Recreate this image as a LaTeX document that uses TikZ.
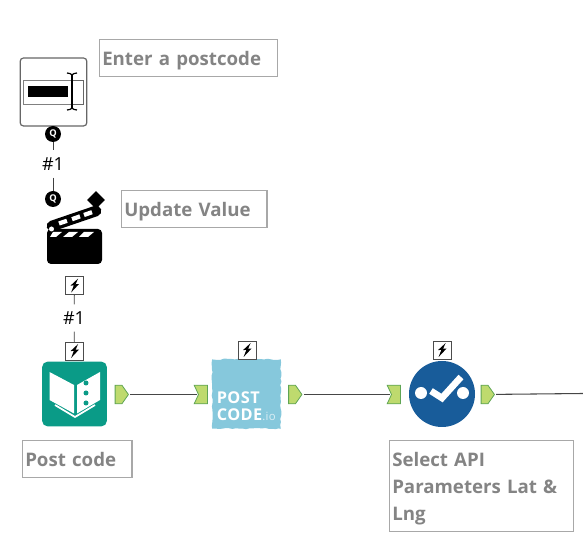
\documentclass[tikz,border=0pt]{standalone}
\usepackage{fontspec}
\usepackage{xcolor}
\usepackage{tikz}
\usetikzlibrary{shapes.symbols,shapes.geometric,decorations.pathmorphing}
\setmainfont{Open Sans}
\definecolor{noteline}{RGB}{168,168,168}
\definecolor{notetext}{RGB}{132,132,132}
\definecolor{wireline}{RGB}{70,70,70}
\definecolor{portfill}{RGB}{190,218,110}
\definecolor{portline}{RGB}{95,165,85}
\definecolor{bookteal}{RGB}{10,155,135}
\definecolor{apiblue}{RGB}{134,200,220}
\definecolor{selblue}{RGB}{24,92,154}
\tikzset{
  notebox/.style ={draw=noteline, line width=0.9pt, fill=white, anchor=north west, inner sep=2pt, align=left, text=notetext, font=\fontsize{14}{20.2}\selectfont\bfseries},
  noteline1/.style={notebox, minimum height=27.5pt, text height=14pt, text depth=3pt},
  wire/.style    ={draw=wireline, line width=0.8pt, shorten >=1pt, shorten <=1pt},
  conn/.style    ={draw=black!75, line width=0.6pt},
  qdot/.style    ={circle, fill=black, text=white, minimum size=12pt, inner sep=0pt, font=\fontsize{7}{7}\selectfont\bfseries},
  countlab/.style={inner sep=0pt, minimum height=20pt, font=\fontsize{13.5}{14}\selectfont},
  boltbox/.style ={draw=black!70, line width=0.7pt, fill=white, minimum size=13.5pt, inner sep=0pt,
    path picture={\fill[black,shift={(path picture bounding box.center)}] (2.7pt,5.2pt) -- (-3pt,-0.1pt) -- (-0.5pt,0.1pt) -- (-2.5pt,-5.2pt) -- (3.4pt,1.1pt) -- (0.8pt,0.9pt) -- cycle;}},
  outport/.style ={signal, signal to=east, signal pointer angle=110, draw=portline, line width=0.6pt, fill=portfill, minimum width=10pt, minimum height=14pt, inner sep=0pt},
  inport/.style  ={signal, signal from=west, signal to=nowhere, signal pointer angle=130, draw=portline, line width=0.6pt, fill=portfill, minimum width=10pt, minimum height=14pt, inner sep=0pt},
}
\begin{document}
\begin{tikzpicture}[x=0.75pt,y=-0.75pt]
  \useasboundingbox (0,0) rectangle (583,538);
  \node[noteline1,text width=129.5pt] (noteinput) at (99,39) {Enter a postcode};
  \node[noteline1,text width=105pt] (noteupdate) at (121,190) {Update Value};
  \node[noteline1,text width=78pt] (notebook) at (22,440) {Post code};
  \node[notebox,minimum height=68pt,text width=134pt] (noteselect) at (389,440) {\rule{0pt}{15pt}Select API\\Parameters Lat \&\\Lng};

  \node[draw=black!60,line width=0.9pt,rounded corners=2.5pt,fill=white,minimum width=50pt,minimum height=51pt,inner sep=0pt] (input) at (53.5,92) {};
  \draw[draw=black!50,line width=0.5pt,fill=white] (23,80) rectangle (72,104);
  \fill[black] (28,86) rectangle (68,97);
  \draw[draw=black!60,line width=0.4pt] (72,80) -- (83,80) -- (83,104) -- (72,104);
  \draw[black,line width=1pt] (72,74) -- (72,109);
  \draw[black,line width=0.9pt] (67,73) .. controls (70,73) and (71,74) .. (72,75) .. controls (73,74) and (74,73) .. (77,73);
  \draw[black,line width=0.9pt] (67,110) .. controls (70,110) and (71,109) .. (72,108) .. controls (73,109) and (74,110) .. (77,110);

  \node[qdot] (qout) at (53,134) {Q};
  \node[countlab] (countq) at (53,164) {\#1};
  \node[qdot] (qin) at (53,199) {Q};
  \draw[conn] (qout) -- (countq);
  \draw[conn] (countq) -- (qin);

  \fill[black,rounded corners=3pt] (47,229) rectangle (102,264);
  \fill[white] (53,232) -- (62,232) -- (56,237) -- (50,237) -- cycle;
  \fill[white] (69,232) -- (78,232) -- (72,237) -- (63,237) -- cycle;
  \fill[white] (84,232) -- (94,232) -- (88,237) -- (79,237) -- cycle;
  \draw[black,line width=8pt,line cap=round] (52,226) -- (96,211);
  \draw[white,line width=3.2pt] (59,223.5) -- (67,220.8);
  \draw[white,line width=3.2pt] (72,219.2) -- (80,216.4);
  \draw[white,line width=3.2pt] (84,215) -- (92,212.2);
  \fill[white] (51.5,229) circle (2.5);
  \node[diamond,fill=black,minimum size=13.5pt,inner sep=0pt] (clapmark) at (96,200) {};

  \node[boltbox] (boltout) at (74.5,285.5) {};
  \node[countlab] (countbolt) at (74,318) {\#1};
  \node[boltbox] (boltbook) at (74.5,351) {};
  \draw[conn] (boltout) -- (countbolt);
  \draw[conn] (countbolt) -- (boltbook);

  \node[fill=bookteal,rounded corners=4pt,minimum size=48.5pt,inner sep=0pt] (book) at (74.5,394) {};
  \fill[white] (49.5,372) -- (74,385) -- (74,413.5) -- (49.5,400) -- cycle;
  \fill[white] (77,385) -- (100,372) -- (100,400) -- (77,413.5) -- cycle;
  \fill[bookteal] (86,383) circle (2.5);
  \fill[bookteal] (86,393) circle (2.5);
  \fill[bookteal] (86,403) circle (2.5);
  \draw[white,line width=1.3pt] (55,405) -- (75,417) -- (95,405);
  \node[outport] (bookout) at (118.5,394.5) {};

  \pgfmathsetseed{7}
  \node[fill=apiblue,minimum width=51.5pt,minimum height=52pt,inner sep=0pt,decorate,decoration={random steps,segment length=2.5pt,amplitude=0.5pt}] (api) at (246.5,394) {};
  \node[text=white,anchor=north west,inner sep=0pt,align=left,font=\fontsize{12.2}{12.4}\selectfont\bfseries\addfontfeatures{LetterSpace=3}] (apitext) at (216.5,391.5) {POST\\CODE\textcolor{white!70!apiblue}{\fontsize{8.5}{12}\selectfont\mdseries.io}};
  \node[boltbox] (boltapi) at (247,350) {};
  \node[inport] (apiin) at (203,394.5) {};
  \node[outport] (apiout) at (292,394.5) {};

  \node[circle,fill=selblue,minimum size=49.5pt,inner sep=0pt] (select) at (442,394) {};
  \fill[white] (421,393) circle (6);
  \fill[white] (463,393) circle (6);
  \draw[white,line width=5pt] (431,391) -- (442,398) -- (461,377);
  \node[boltbox] (boltselect) at (442,350) {};
  \node[inport] (selectin) at (396,394.5) {};
  \node[outport] (selectout) at (484.5,394.5) {};
  \coordinate (offpage) at (583,393.5);

  \draw[wire] (bookout) -- (apiin);
  \draw[wire] (apiout) -- (selectin);
  \draw[wire,shorten >=0pt] (selectout) -- (offpage);
\end{tikzpicture}
\end{document}
